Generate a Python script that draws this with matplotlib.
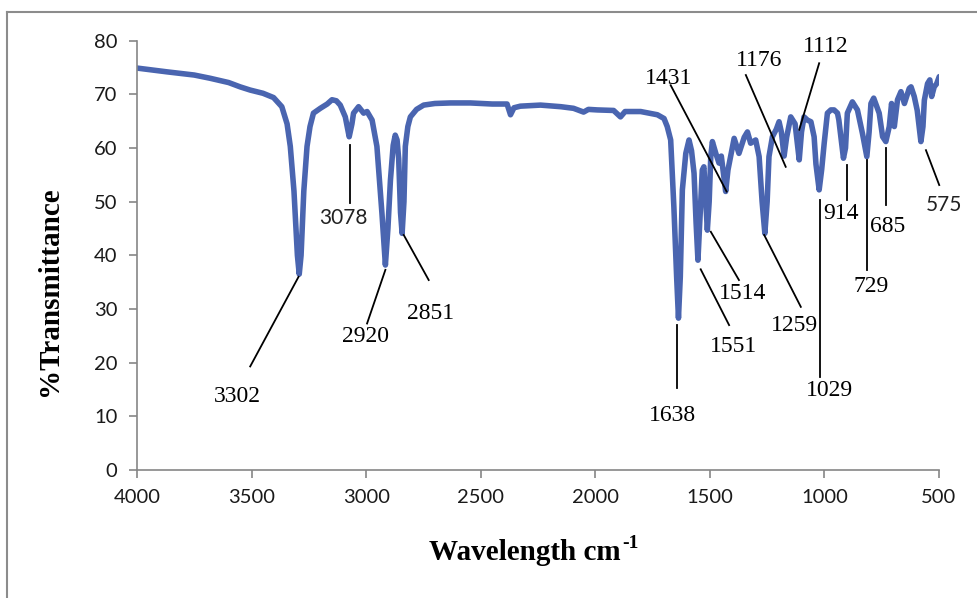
import matplotlib
matplotlib.use("Agg")
import matplotlib.pyplot as plt
from matplotlib.lines import Line2D

# spectrum (wavenumber, %T)
wavenumber = [4000, 3870, 3750, 3681, 3600, 3550, 3506, 3450, 3404, 3368, 3345, 3331,
              3315, 3300, 3292, 3284, 3272, 3258, 3245, 3230, 3200, 3170, 3149, 3130,
              3113, 3091, 3074, 3062, 3055, 3033, 3011, 2996, 2974, 2953, 2931, 2916,
              2905, 2894, 2882, 2873, 2865, 2858, 2850, 2843, 2835, 2829, 2818, 2807,
              2780, 2749, 2700, 2632, 2545, 2450, 2385, 2370, 2355, 2327, 2239, 2150,
              2095, 2051, 2030, 1991, 1920, 1890, 1870, 1802, 1729, 1700, 1686, 1671,
              1657, 1645, 1637, 1629, 1620, 1605, 1591, 1580, 1569, 1560, 1552, 1544,
              1533, 1526, 1518, 1511, 1503, 1496, 1489, 1474, 1460, 1450, 1440, 1431,
              1421, 1394, 1373, 1350, 1336, 1322, 1300, 1285, 1272, 1260, 1250, 1242,
              1227, 1210, 1198, 1188, 1176, 1165, 1147, 1128, 1110, 1100, 1089, 1074,
              1059, 1045, 1037, 1023, 1012, 1001, 987, 972, 958, 943, 937, 925,
              917, 908, 900, 878, 856, 834, 815, 805, 797, 785, 761, 746,
              732, 717, 707, 695, 681, 666, 651, 630, 622, 608, 595, 579,
              570, 564, 550, 540, 532, 521, 510, 499]
transmittance = [74.9, 74.2, 73.6, 73.0, 72.2, 71.4, 70.8, 70.2, 69.4, 67.7, 64.5, 60.3,
                 52.0, 40.0, 36.5, 40.0, 52.0, 60.3, 64.0, 66.5, 67.4, 68.2, 69.0, 68.8,
                 68.0, 65.8, 62.1, 64.5, 66.5, 67.7, 66.5, 66.8, 65.2, 60.3, 47.8, 38.2,
                 45.0, 54.0, 60.5, 62.4, 61.5, 58.0, 48.0, 44.1, 50.0, 60.3, 64.0, 65.8,
                 67.2, 68.0, 68.3, 68.4, 68.4, 68.2, 68.2, 66.2, 67.5, 67.8, 68.0, 67.7,
                 67.4, 66.7, 67.2, 67.1, 67.0, 65.8, 66.8, 66.8, 66.2, 65.5, 64.0, 61.5,
                 49.0, 36.0, 28.3, 36.0, 52.2, 59.0, 61.5, 59.5, 55.3, 46.0, 39.1, 46.0,
                 55.9, 56.5, 50.0, 44.7, 50.0, 58.4, 61.2, 59.0, 57.2, 58.5, 55.0, 51.9,
                 55.9, 61.8, 59.0, 62.0, 63.0, 60.9, 61.5, 58.4, 50.0, 44.1, 50.0, 58.4,
                 62.1, 63.5, 64.9, 63.0, 58.5, 62.0, 65.8, 64.5, 57.8, 63.0, 65.8, 65.2,
                 64.9, 62.1, 57.0, 52.2, 56.0, 60.9, 66.5, 67.1, 67.1, 66.5, 65.2, 61.0,
                 58.1, 60.0, 66.5, 68.6, 67.1, 62.7, 58.4, 63.0, 68.3, 69.3, 66.5, 62.1,
                 61.2, 64.0, 68.3, 64.0, 69.0, 70.5, 68.3, 71.1, 71.4, 69.6, 67.0, 61.2,
                 64.0, 68.9, 72.0, 72.7, 69.6, 71.4, 72.0, 73.3]

# peak labels: text, leader line start/end (x, y), label centre (x, y)
peak_labels = ['3302', '3078', '2920', '2851', '1638', '1551', '1514', '1431',
               '1259', '1176', '1112', '1029', '914', '729', '685', '575']
line_start = [(3295, 36.0), (3072, 60.6), (2916, 37.3), (2836, 43.8), (1645, 27.0),
              (1540, 37.4), (1496, 44.4), (1427, 51.9), (1263, 43.8), (1169, 56.5),
              (1110, 63.4), (1019, 50.3), (903, 56.8), (815, 57.8), (732, 60.0), (557, 59.6)]
line_end = [(3506, 19.3), (3072, 49.7), (2996, 27.3), (2727, 35.4), (1645, 15.2),
            (1416, 27.0), (1373, 35.4), (1671, 71.7), (1103, 30.4), (1343, 73.6),
            (1023, 75.8), (1019, 17.4), (903, 50.3), (815, 37.3), (732, 49.4), (499, 53.1)]
label_pos = [(3564, 13.7), (3099, 46.9), (3004, 24.8), (2720, 29.2), (1664, 10.2),
             (1395, 23.0), (1358, 32.9), (1679, 73.0), (1132, 27.0), (1285, 76.4),
             (994, 78.9), (979, 14.9), (928, 47.8), (797, 34.2), (724, 45.3), (478, 49.4)]
sans_labels = ['3078', '575']

fig = plt.figure(figsize=(9.77, 5.98), dpi=100)
ax = fig.add_axes([137/977, 1 - 470/598, (939 - 137)/977, (470 - 40.7)/598])

ax.plot(wavenumber, transmittance, color='#4a65b0', lw=4, solid_joinstyle='round',
        solid_capstyle='round')

for txt, p0, p1, pl in zip(peak_labels, line_start, line_end, label_pos):
    ax.plot([p0[0], p1[0]], [p0[1], p1[1]], color='black', lw=1.3, clip_on=False)
    if txt in sans_labels:
        ax.text(pl[0], pl[1], txt, ha='center', va='center', fontsize=15,
                family='Lato', color='#222222', clip_on=False)
    else:
        ax.text(pl[0], pl[1], txt, ha='center', va='center', fontsize=17,
                family='Liberation Serif', color='black', clip_on=False)

ax.set_xlim(4000, 500)
ax.set_ylim(0, 80)
ax.set_xticks(range(4000, 499, -500))
ax.set_yticks(range(0, 81, 10))
for s in ['top', 'right']:
    ax.spines[s].set_visible(False)
for s in ['left', 'bottom']:
    ax.spines[s].set_color('#868686')
    ax.spines[s].set_linewidth(1.2)
ax.tick_params(direction='out', length=6, width=1.2, color='#868686',
               labelsize=14.5, labelcolor='#1a1a1a', pad=8)
for lab in ax.get_xticklabels() + ax.get_yticklabels():
    lab.set_family('Lato')

fig.text(50/977, 1 - 291/598, '%Transmittance', rotation=90, ha='center', va='center',
         fontsize=21, fontweight='bold', family='Liberation Serif')
fig.text(621/977, 1 - 552/598, 'Wavelength cm', ha='right', va='center',
         fontsize=21, fontweight='bold', family='Liberation Serif')
fig.text(622/977, 1 - 544/598, '-1', ha='left', va='center',
         fontsize=14, fontweight='bold', family='Liberation Serif')

# chart-area border (left and top visible)
fig.add_artist(Line2D([7/977, 7/977], [0, 1 - 12/598], color='#8c8c8c', lw=1.5,
                      transform=fig.transFigure))
fig.add_artist(Line2D([7/977, 1], [1 - 12/598, 1 - 12/598], color='#8c8c8c', lw=1.5,
                      transform=fig.transFigure))

fig.savefig('out.png', dpi=100)
